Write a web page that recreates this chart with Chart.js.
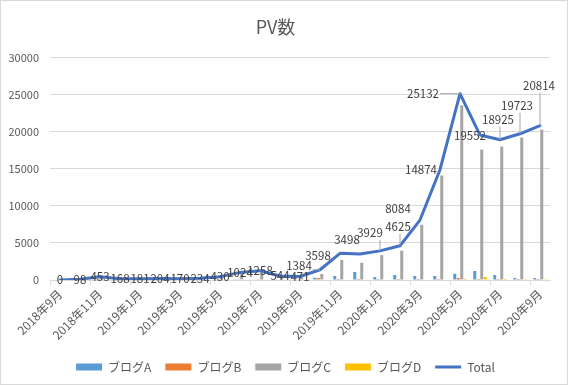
<!DOCTYPE html>
<html>
<head>
<meta charset="utf-8">
<script src="https://cdn.jsdelivr.net/npm/chart.js@4/dist/chart.umd.min.js"></script>
<style>
  html, body { margin: 0; padding: 0; background: #fff; }
  #wrap { width: 568px; height: 385px; box-sizing: border-box; border: 1px solid #d9d9d9; }
</style>
</head>
<body>
<div id="wrap"><canvas id="pvChart" width="566" height="383"></canvas></div>
<script>
var months = ['2018年9月', '2018年10月', '2018年11月', '2018年12月', '2019年1月', '2019年2月',
  '2019年3月', '2019年4月', '2019年5月', '2019年6月', '2019年7月', '2019年8月', '2019年9月',
  '2019年10月', '2019年11月', '2019年12月', '2020年1月', '2020年2月', '2020年3月', '2020年4月',
  '2020年5月', '2020年6月', '2020年7月', '2020年8月', '2020年9月'];
var blogA = [0, 10, 30, 15, 15, 20, 15, 20, 40, 100, 80, 60, 50,
  300, 540, 1080, 405, 676, 540, 540, 855, 1215, 675, 270, 270];
var blogB = [0, 0, 10, 5, 5, 5, 5, 10, 30, 90, 100, 60, 40,
  270, 135, 150, 150, 150, 135, 135, 270, 135, 135, 135, 135];
var blogC = [0, 88, 413, 148, 161, 179, 150, 204, 360, 834, 1078, 424, 381,
  814, 2700, 2340, 3380, 3940, 7450, 14090, 23560, 17610, 18020, 19230, 20310];
var blogD = [0, 0, 0, 0, 0, 0, 0, 0, 0, 0, 0, 0, 0,
  0, 0, 0, 0, 0, 0, 0, 135, 405, 135, 90, 90];
var total = [0, 98, 453, 168, 181, 204, 170, 234, 430, 1024, 1258, 544, 471,
  1384, 3598, 3498, 3929, 4625, 8084, 14874, 25132, 19552, 18925, 19723, 20814];
var yTicks = [0, 5000, 10000, 15000, 20000, 25000, 30000];

// where each Total label sits relative to its point (px), and which get a leader line
var labelShift = [[0, 0], [0, 0], [0, 0], [0, 0], [0, 0], [0, 0], [0, 0], [0, 0], [0, 0],
  [0, 0], [0, 0], [0, 0], [0, 0], [-21, -4], [-22, 2], [-13, -14], [-10, -18], [-2, -19],
  [-22, -11], [-19, 0], [-37, 0], [-10, 1], [-2, -20], [-3, -28], [-1, -40]];
var withLeader = [13, 16, 17, 20, 22, 23, 24];

Chart.defaults.font.family = '"Noto Sans CJK JP", sans-serif';
Chart.defaults.color = '#595959';

var totalLabels = {
  id: 'totalLabels',
  afterLayout: function (chart) {
    // excel centres the legend on the whole chart, not on the plot's padded box
    chart.legend.left += 3;
    chart.legend.right = chart.width;
  },
  afterDatasetsDraw: function (chart) {
    var meta = chart.getDatasetMeta(4);
    var ctx = chart.ctx;
    ctx.save();
    ctx.font = '11.5px "Noto Sans CJK JP", sans-serif';
    ctx.textAlign = 'center';
    ctx.textBaseline = 'middle';
    meta.data.forEach(function (pt, i) {
      var cx = pt.x + labelShift[i][0];
      var cy = pt.y + labelShift[i][1];
      var text = String(total[i]);
      if (withLeader.indexOf(i) >= 0) {
        var hw = ctx.measureText(text).width / 2 + 1;
        var lx = Math.max(cx - hw, Math.min(pt.x, cx + hw));
        var ly = Math.max(cy - 7, Math.min(pt.y, cy + 7));
        ctx.strokeStyle = '#a6a6a6';
        ctx.lineWidth = 1;
        ctx.beginPath();
        ctx.moveTo(lx, ly);
        ctx.lineTo(pt.x, pt.y);
        ctx.stroke();
      }
      ctx.fillStyle = '#404040';
      ctx.fillText(text, cx, cy);
    });
    ctx.restore();
  }
};

function bar(label, data, color) {
  return {
    label: label, data: data, backgroundColor: color, borderWidth: 0, order: 1,
    categoryPercentage: 0.7, barPercentage: 0.86
  };
}

new Chart(document.getElementById('pvChart'), {
  type: 'bar',
  data: {
    labels: months,
    datasets: [
      bar('ブログA', blogA, '#5B9BD5'),
      bar('ブログB', blogB, '#ED7D31'),
      bar('ブログC', blogC, '#A5A5A5'),
      bar('ブログD', blogD, '#FFC000'),
      {
        type: 'line', label: 'Total', data: total, order: 0,
        borderColor: '#4472C4', backgroundColor: '#4472C4', borderWidth: 3,
        pointRadius: 0, tension: 0, borderJoinStyle: 'round', borderCapStyle: 'round'
      }
    ]
  },
  options: {
    responsive: false,
    animation: false,
    layout: { padding: { top: 10, right: 17, bottom: 1, left: 0 } },
    plugins: {
      title: {
        display: true, text: 'PV数', color: '#595959',
        font: { size: 18, weight: 'normal' }, padding: { top: 5, bottom: 20 }
      },
      legend: {
        position: 'bottom',
        labels: {
          usePointStyle: true, pointStyleWidth: 26, boxHeight: 7, padding: 14,
          color: '#595959', font: { size: 12 },
          sort: function (a, b) { return a.datasetIndex - b.datasetIndex; },
          generateLabels: function (chart) {
            var items = Chart.defaults.plugins.legend.labels.generateLabels(chart);
            items.forEach(function (it) {
              if (it.datasetIndex === 4) {
                it.pointStyle = 'line'; it.lineWidth = 3; it.strokeStyle = '#4472C4';
              } else {
                it.pointStyle = 'rect'; it.lineWidth = 0;
              }
            });
            return items;
          }
        }
      },
      tooltip: { enabled: false }
    },
    scales: {
      x: {
        afterFit: function (s) { s.height = 67; },
        border: { display: true, color: '#d9d9d9' },
        grid: {
          offset: true, drawOnChartArea: false, tickLength: 5,
          tickColor: function (c) { return c.index % 2 === 0 ? '#d9d9d9' : 'rgba(0,0,0,0)'; }
        },
        ticks: {
          autoSkip: false, minRotation: 45, maxRotation: 45, padding: 2,
          font: { size: 12 }, color: '#595959',
          callback: function (v, i) { return i % 2 === 0 ? months[i] : ''; }
        }
      },
      y: {
        min: yTicks[0], max: yTicks[yTicks.length - 1],
        afterFit: function (s) { s.width = 49; },
        afterBuildTicks: function (s) { s.ticks = yTicks.map(function (v) { return { value: v }; }); },
        border: { display: false },
        grid: { color: '#d9d9d9', drawTicks: false },
        ticks: {
          padding: 11, font: { size: 11 }, color: '#595959',
          callback: function (v) { return String(v); }
        }
      }
    }
  },
  plugins: [totalLabels]
});
</script>
</body>
</html>
